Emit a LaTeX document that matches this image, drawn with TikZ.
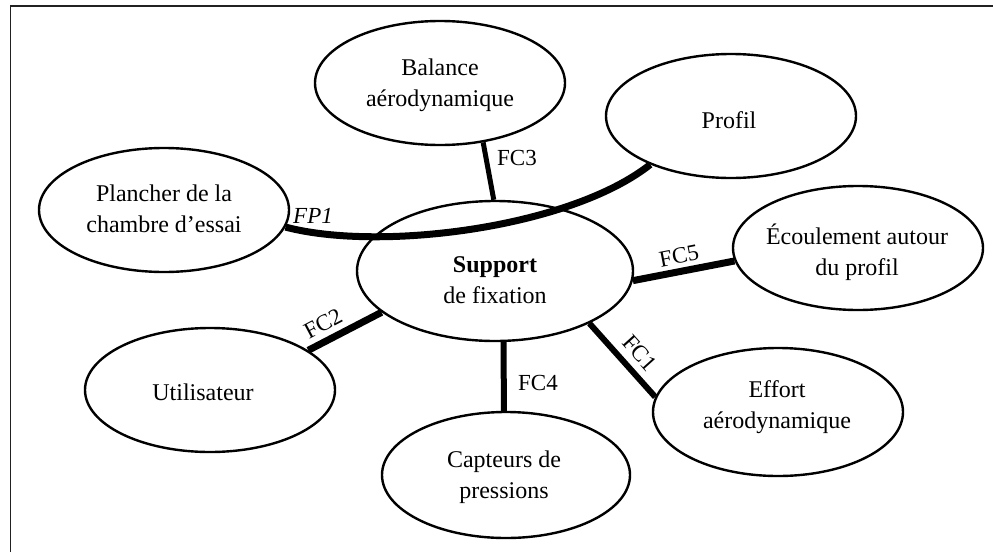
\documentclass[tikz,border=0pt]{standalone}
\usepackage{fontspec}
\setmainfont{Liberation Serif}
\usetikzlibrary{shapes.geometric}

\tikzset{
  bubble/.style={draw=black, line width=2.4pt, ellipse, inner sep=0pt,
                 minimum width=250pt, minimum height=124pt},
  bubbletext/.style={align=center, inner sep=0pt,
                     font=\fontsize{24}{31}\selectfont},
  link/.style={draw=black, line width=6pt},
  linklabel/.style={inner sep=0pt, font=\fontsize{23}{28}\selectfont},
  frameline/.style={draw=black!87, line width=1.5pt}
}

\begin{document}
\begin{tikzpicture}[x=1pt, y=-1pt]
  \useasboundingbox (0,0) rectangle (993,552);

  % frame: top and left edges
  \coordinate (fa) at (10.5,552);
  \coordinate (fb) at (10.5,6);
  \coordinate (fc) at (993,6);
  \draw[frameline] (fa) -- (fb) -- (fc);

  % outer functions
  \node[bubble] (bal)  at (440,83)  {};
  \node[bubble] (prof) at (731,116) {};
  \node[bubble] (plan) at (164,210) {};
  \node[bubble] (ecou) at (858,248) {};
  \node[bubble] (util) at (210,390) {};
  \node[bubble, minimum width=248pt, minimum height=126pt] (cap) at (506,475) {};
  \node[bubble, minimum height=128pt] (eff) at (778,412) {};

  % central element
  \node[bubble, minimum width=276pt, minimum height=140pt] (sup) at (495,271) {};

  % texts
  \node[bubbletext] (bal-t)  at (440,85)  {Balance\\aérodynamique};
  \node[bubbletext] (prof-t) at (729,120) {Profil};
  \node[bubbletext] (plan-t) at (164,209) {Plancher de la\\chambre d’essai};
  \node[bubbletext] (ecou-t) at (857,252) {Écoulement autour\\du profil};
  \node[bubbletext] (util-t) at (203,392) {Utilisateur};
  \node[bubbletext] (cap-t)  at (504,477) {Capteurs de\\pressions};
  \node[bubbletext] (eff-t)  at (777,407) {Effort\\aérodynamique};
  \node[bubbletext] (sup-t)  at (495,280) {\textbf{Support}\\de fixation};

  % principal function: curved link through the support
  \draw[link, line width=7pt] (plan.-8) .. controls (380,252) and (570,228) .. (prof.211);

  % constraint functions
  \draw[link, line width=5pt] (bal.-54) -- (sup.91);
  \draw[link, line width=7pt] (sup.-4) -- (ecou.186);
  \draw[link, line width=7pt] (sup.200) -- (util.22);
  \draw[link] (sup.-83) -- (cap.92);
  \draw[link] (sup.-29.5) -- (eff.173);

  % link labels
  \node[linklabel, font=\fontsize{23}{28}\selectfont\itshape] (lfp1) at (313,216) {FP1};
  \node[linklabel] (lfc3) at (517,158) {FC3};
  \node[linklabel, rotate=11] (lfc5) at (679,256) {FC5};
  \node[linklabel, rotate=28] (lfc2) at (323,324) {FC2};
  \node[linklabel] (lfc4) at (538,383) {FC4};
  \node[linklabel, rotate=-48] (lfc1) at (640,353) {FC1};
\end{tikzpicture}
\end{document}
